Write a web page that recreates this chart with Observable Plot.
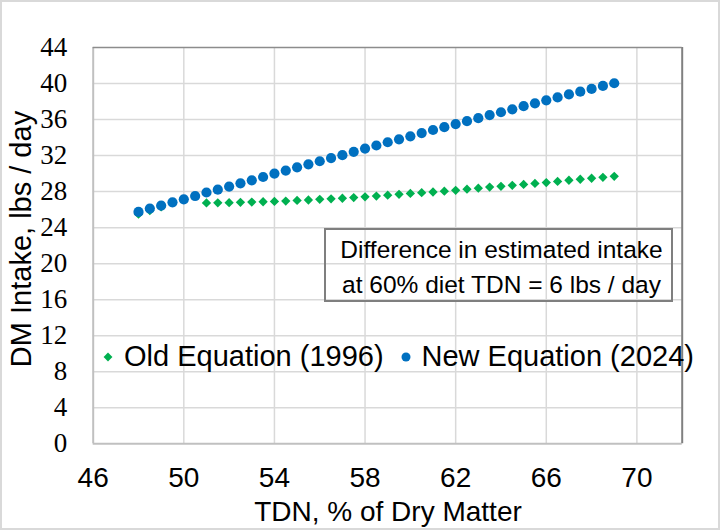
<!DOCTYPE html>
<html><head><meta charset="utf-8">
<script src="https://cdn.jsdelivr.net/npm/d3@7"></script>
<script src="https://cdn.jsdelivr.net/npm/@observablehq/plot@0.6"></script>
<style>
html,body{margin:0;padding:0;background:#fff;}
#wrap{position:relative;width:722px;height:531px;overflow:hidden;background:#fff;}
#wrap svg{position:absolute;left:0;top:0;}
#outer{position:absolute;left:0;top:0;width:720px;height:530px;box-sizing:border-box;border:2px solid #d9d9d9;pointer-events:none;}
#note{position:absolute;left:324px;top:228px;width:349px;height:74px;box-sizing:border-box;border:2px solid #7f7f7f;
  font-family:"Liberation Sans",Arial,sans-serif;font-size:24.5px;line-height:35px;text-align:center;padding-top:2px;padding-left:6px;color:#000;white-space:nowrap;}
</style></head><body><div id="wrap"></div>
<script>
const tdnNew = [48,48.5,49,49.5,50,50.5,51,51.5,52,52.5,53,53.5,54,54.5,55,55.5,56,56.5,57,57.5,58,58.5,59,59.5,60,60.5,61,61.5,62,62.5,63,63.5,64,64.5,65,65.5,66,66.5,67,67.5,68,68.5,69];
const newIntake = [25.74,26.12,26.45,26.81,27.14,27.51,27.9,28.22,28.56,28.92,29.25,29.62,30.0,30.33,30.7,31.03,31.37,31.72,32.05,32.42,32.78,33.12,33.48,33.81,34.14,34.5,34.84,35.15,35.5,35.82,36.15,36.5,36.81,37.14,37.48,37.8,38.13,38.46,38.79,39.1,39.4,39.73,40.03];
const tdnOld = [48,48.5,49,51,51.5,52,52.5,53,53.5,54,54.5,55,55.5,56,56.5,57,57.5,58,58.5,59,59.5,60,60.5,61,61.5,62,62.5,63,63.5,64,64.5,65,65.5,66,66.5,67,67.5,68,68.5,69];
const oldIntake = [25.5,25.9,26.3,26.74,26.75,26.77,26.81,26.84,26.87,26.91,26.95,27.02,27.07,27.14,27.2,27.26,27.34,27.42,27.5,27.6,27.7,27.8,27.88,27.96,28.05,28.14,28.27,28.38,28.5,28.59,28.7,28.8,28.91,29.0,29.13,29.26,29.37,29.48,29.59,29.7];
const xTicks = [46,50,54,58,62,66,70];
const yTicks = [0,4,8,12,16,20,24,28,32,36,40,44];
const seriesNames = ["Old Equation (1996)","New Equation (2024)"];
const seriesColors = ["#00B050","#0070C0"];
const noteLines = ["Difference in estimated intake","at 60% diet TDN = 6 lbs / day"];
const xTitle = "TDN, % of Dry Matter";
const yTitle = "DM Intake, lbs / day";

const newData = tdnNew.map((x,i)=>({x, y:newIntake[i]}));
const oldData = tdnOld.map((x,i)=>({x, y:oldIntake[i]}));
const sans = "'Liberation Sans', Arial, sans-serif";

const plot = Plot.plot({
  width:722, height:531,
  marginLeft:92.7, marginRight:40.3, marginTop:47, marginBottom:87.7,
  style:{fontFamily:sans, background:"transparent", overflow:"visible", color:"#000"},
  x:{domain:[46,72], label:null},
  y:{domain:[0,44], label:null},
  marks:[
    Plot.gridX(xTicks.filter(t=>t>46), {stroke:"#d9d9d9", strokeOpacity:1, strokeWidth:1.5}),
    Plot.gridY(yTicks.filter(t=>t>0 && t<44), {stroke:"#d9d9d9", strokeOpacity:1, strokeWidth:1.5}),
    Plot.ruleX([46], {stroke:"#c0c0c0", strokeWidth:2}),
    Plot.ruleY([0], {stroke:"#c0c0c0", strokeWidth:2}),
    Plot.ruleY([44], {stroke:"#8c8c8c", strokeWidth:1.5}),
    Plot.ruleX([72], {stroke:"#808080", strokeWidth:2}),
    Plot.axisX(xTicks, {tickSize:0, tickPadding:23.4, fontSize:28, fill:"#000", label:null, fontFamily:sans}),
    Plot.axisY(yTicks, {tickSize:0, tickPadding:26, fontSize:27, fill:"#000", label:null, fontFamily:"'Liberation Serif','Times New Roman',serif"}),
    Plot.dot(oldData, {x:"x", y:"y", symbol:"diamond2", r:4.2, fill:seriesColors[0], stroke:null}),
    Plot.dot(newData, {x:"x", y:"y", r:5.1, fill:seriesColors[1], stroke:null})
  ]
});

const wrap = document.getElementById("wrap");
wrap.appendChild(plot);
const svg = d3.select(plot);

// axis titles
svg.append("text").attr("x",388).attr("y",520.5).attr("text-anchor","middle")
  .attr("font-family",sans).attr("font-size",28).attr("fill","#000").text(xTitle);
svg.append("text").attr("transform","translate(31,239) rotate(-90)").attr("text-anchor","middle")
  .attr("font-family",sans).attr("font-size",29).attr("fill","#000").text(yTitle);

// legend
const lg = svg.append("g").attr("text-anchor","start");
lg.append("path").attr("d", d3.symbol(d3.symbolDiamond2, 50)()).attr("transform","translate(108,357)").attr("fill",seriesColors[0]);
lg.append("text").attr("x",124).attr("y",366).attr("text-anchor","start").attr("font-family",sans).attr("font-size",29).attr("fill","#000").text(seriesNames[0]);
lg.append("circle").attr("cx",406).attr("cy",357).attr("r",4.5).attr("fill",seriesColors[1]);
lg.append("text").attr("x",421.5).attr("y",366).attr("text-anchor","start").attr("font-family",sans).attr("font-size",29).attr("fill","#000").text(seriesNames[1]);

// annotation
const note = document.createElement("div");
note.id = "note";
note.innerHTML = noteLines.map(s=>"<div>"+s+"</div>").join("");
wrap.appendChild(note);

const outer = document.createElement("div");
outer.id = "outer";
wrap.appendChild(outer);
</script>
</body></html>
